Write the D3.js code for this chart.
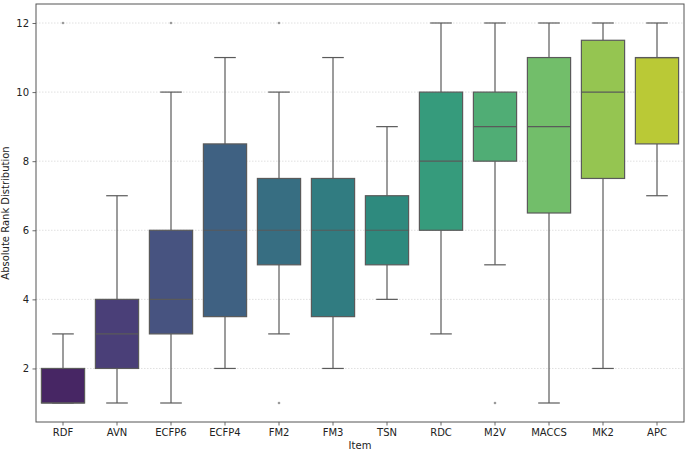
<!DOCTYPE html>
<html>
<head>
<meta charset="utf-8">
<script src="https://cdn.jsdelivr.net/npm/d3@7"></script>
<style>
  body { margin: 0; background: #fff; }
  text { font-family: "DejaVu Sans", sans-serif; }
</style>
</head>
<body>
<div id="chart"></div>
<script>
// Data
const items = ["RDF", "AVN", "ECFP6", "ECFP4", "FM2", "FM3", "TSN", "RDC", "M2V", "MACCS", "MK2", "APC"];
const whiskerLow = [1, 1, 1, 2, 3, 2, 4, 3, 5, 1, 2, 7];
const q1 = [1, 2, 3, 3.5, 5, 3.5, 5, 6, 8, 6.5, 7.5, 8.5];
const median = [1, 3, 4, 6, 6, 6, 6, 8, 9, 9, 10, 11];
const q3 = [2, 4, 6, 8.5, 7.5, 7.5, 7, 10, 10, 11, 11.5, 11];
const whiskerHigh = [3, 7, 10, 11, 10, 11, 9, 12, 12, 12, 12, 12];
const outliers = [[12], [], [12], [], [12, 1], [], [], [], [1], [], [], []];
const yTicks = [2, 4, 6, 8, 10, 12];

const width = 688, height = 452;
const margin = { top: 4, right: 4, bottom: 30, left: 36 };
const w = width - margin.left - margin.right;
const h = height - margin.top - margin.bottom;

const svg = d3.select("#chart").append("svg")
  .attr("width", width)
  .attr("height", height);

const chart = svg.append("g")
  .attr("transform", `translate(${margin.left},${margin.top})`);

const x = d3.scaleBand().domain(items).range([0, w]).padding(0);
const y = d3.scaleLinear().domain([0.45, 12.55]).range([h, 0]);

// seaborn-like viridis palette, desaturated by 0.75
const color = (i) => {
  const c = d3.hsl(d3.interpolateViridis((i + 1) / (items.length + 1)));
  c.s *= 0.75;
  return c.formatHex();
};

// grid
chart.append("g")
  .selectAll("line")
  .data(yTicks)
  .enter()
  .append("line")
  .attr("x1", 0).attr("x2", w)
  .attr("y1", (d) => y(d)).attr("y2", (d) => y(d))
  .attr("stroke", "#d8d8d8")
  .attr("stroke-width", 0.8)
  .attr("stroke-dasharray", "1.5,1.5");

const lineColor = "#5a5a5a";
const boxW = x.bandwidth() * 0.8;

const data = items.map((d, i) => ({
  item: d, i,
  lo: whiskerLow[i], q1: q1[i], med: median[i], q3: q3[i], hi: whiskerHigh[i],
  out: outliers[i]
}));

const g = chart.selectAll(".box")
  .data(data)
  .enter()
  .append("g")
  .attr("class", "box")
  .attr("transform", (d) => `translate(${x(d.item) + x.bandwidth() / 2},0)`);

// whiskers
g.append("line")
  .attr("x1", 0).attr("x2", 0)
  .attr("y1", (d) => y(d.q3)).attr("y2", (d) => y(d.hi))
  .attr("stroke", lineColor).attr("stroke-width", 1.2);
g.append("line")
  .attr("x1", 0).attr("x2", 0)
  .attr("y1", (d) => y(d.q1)).attr("y2", (d) => y(d.lo))
  .attr("stroke", lineColor).attr("stroke-width", 1.2);

// caps
g.append("line")
  .attr("x1", -boxW / 4).attr("x2", boxW / 4)
  .attr("y1", (d) => y(d.hi)).attr("y2", (d) => y(d.hi))
  .attr("stroke", lineColor).attr("stroke-width", 1.2);
g.append("line")
  .attr("x1", -boxW / 4).attr("x2", boxW / 4)
  .attr("y1", (d) => y(d.lo)).attr("y2", (d) => y(d.lo))
  .attr("stroke", lineColor).attr("stroke-width", 1.2);

// boxes
g.append("rect")
  .attr("x", -boxW / 2)
  .attr("width", boxW)
  .attr("y", (d) => y(d.q3))
  .attr("height", (d) => y(d.q1) - y(d.q3))
  .attr("fill", (d) => color(d.i))
  .attr("stroke", lineColor)
  .attr("stroke-width", 1.2);

// medians
g.append("line")
  .attr("x1", -boxW / 2).attr("x2", boxW / 2)
  .attr("y1", (d) => y(d.med)).attr("y2", (d) => y(d.med))
  .attr("stroke", lineColor).attr("stroke-width", 1.2);

// outliers
g.selectAll("circle")
  .data((d) => d.out)
  .enter()
  .append("circle")
  .attr("cx", 0)
  .attr("cy", (d) => y(d))
  .attr("r", 1.3)
  .attr("fill", "#9a9a9a");

// axes
const xAxis = chart.append("g")
  .attr("transform", `translate(0,${h})`)
  .call(d3.axisBottom(x).tickSize(3.5).tickPadding(3.5));
const yAxis = chart.append("g")
  .call(d3.axisLeft(y).tickValues(yTicks).tickSize(3.5).tickPadding(3.5));

[xAxis, yAxis].forEach((a) => {
  a.select(".domain").remove();
  a.selectAll(".tick line").attr("stroke", "#444").attr("stroke-width", 0.8);
  a.selectAll(".tick text").attr("fill", "#222").style("font-size", "10px");
});

// frame
chart.append("rect")
  .attr("width", w).attr("height", h)
  .attr("fill", "none")
  .attr("stroke", "#555")
  .attr("stroke-width", 1);

// labels
chart.append("text")
  .attr("x", w / 2)
  .attr("y", h + 27)
  .attr("text-anchor", "middle")
  .attr("fill", "#222")
  .style("font-size", "10px")
  .text("Item");

chart.append("text")
  .attr("transform", "rotate(-90)")
  .attr("x", -h / 2)
  .attr("y", -27)
  .attr("text-anchor", "middle")
  .attr("fill", "#222")
  .style("font-size", "10px")
  .text("Absolute Rank Distribution");
</script>
</body>
</html>
